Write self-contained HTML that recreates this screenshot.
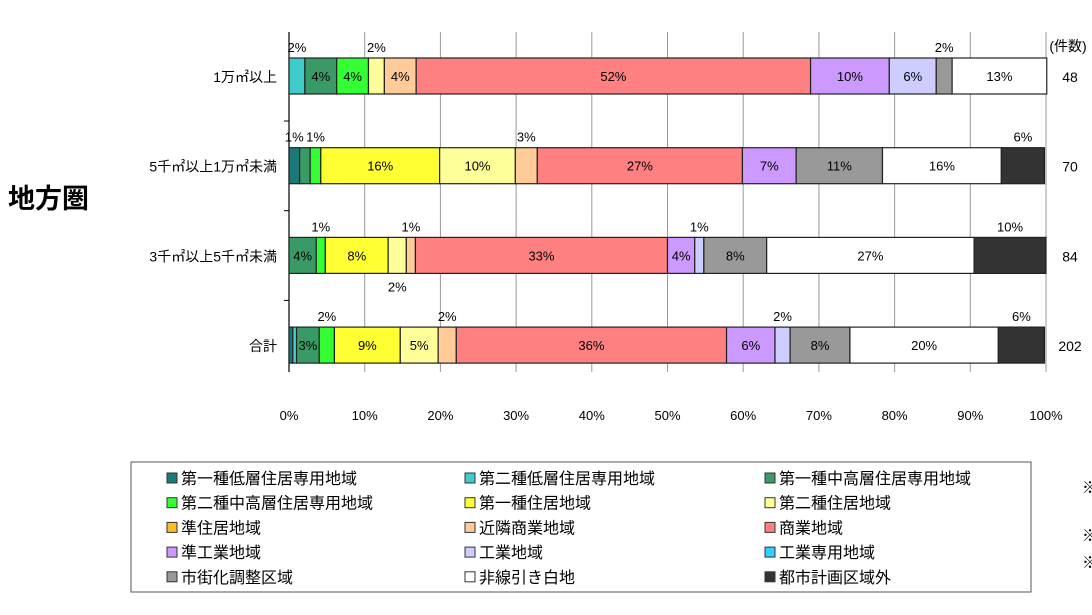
<!DOCTYPE html>
<html><head><meta charset="utf-8">
<style>
body{margin:0;background:#fff;width:1092px;height:610px;overflow:hidden;font-family:"Liberation Sans","Noto Sans CJK JP",sans-serif;}
svg text{font-family:"Liberation Sans","Noto Sans CJK JP",sans-serif;}
</style></head>
<body>
<svg id="chart" width="1092" height="610" xmlns="http://www.w3.org/2000/svg"></svg>
<script>
const categories = ["1万㎡以上","5千㎡以上1万㎡未満","3千㎡以上5千㎡未満","合計"];
const counts = ["48","70","84","202"];
const seriesNames = ["第一種低層住居専用地域","第二種低層住居専用地域","第一種中高層住居専用地域","第二種中高層住居専用地域","第一種住居地域","第二種住居地域","準住居地域","近隣商業地域","商業地域","準工業地域","工業地域","工業専用地域","市街化調整区域","非線引き白地","都市計画区域外"];
const seriesColors = ["#1a7a7a","#40cccc","#3a9a66","#33ff33","#ffff33","#ffff99","#ffbb22","#ffcc99","#ff8080","#cc99ff","#ccccff","#33ccff","#999999","#ffffff","#333333"];
const row1 = [0,2.1,4.2,4.2,0,2.1,0,4.2,52.1,10.4,6.2,0,2.1,12.5,0];
const row2 = [1.4,0,1.4,1.4,15.7,10.0,0,2.9,27.1,7.1,0,0,11.4,15.7,5.7];
const row3 = [0,0,3.6,1.2,8.3,2.4,0,1.2,33.3,3.6,1.2,0,8.3,27.4,9.5];
const row4 = [0.5,0.5,3.0,2.0,8.7,5.0,0,2.4,35.7,6.4,2.0,0,7.9,19.6,6.1];
const rows = [row1,row2,row3,row4];
// label placement per segment: i=inside, u=above, d=below, n=none
const modes1 = ["n","u","i","i","n","u","n","i","i","i","i","n","u","i","n"];
const modes2 = ["u","n","n","u","i","i","n","u","i","i","n","n","i","i","u"];
const modes3 = ["n","n","i","u","i","d","n","u","i","i","u","n","i","i","u"];
const modes4 = ["n","n","i","u","i","i","n","u","i","i","u","n","i","i","u"];
const modes = [modes1,modes2,modes3,modes4];
const xTicks = [0,10,20,30,40,50,60,70,80,90,100];

const svg = document.getElementById('chart');
const NS = "http://www.w3.org/2000/svg";
const X0 = 289, X1 = 1046;
const xScale = v => X0 + (X1 - X0) * v / 100;
const rowY = i => 76 + i * 89.7;
const BH = 36;
function mk(tag, attrs, parent){const e=document.createElementNS(NS,tag);for(const k in attrs)e.setAttribute(k,attrs[k]);(parent||svg).appendChild(e);return e;}

xTicks.forEach(t=>{
  const l = mk('line',{x1:xScale(t),x2:xScale(t),y1:32,y2:372,stroke:'#999','stroke-width':1});
  
  
  const tx = mk('text',{x:xScale(t),y:420,'text-anchor':'middle','font-size':13});
  tx.textContent = t + '%';
  
  
});
const ax = mk('line',{x1:X0,x2:X0,y1:32,y2:372,stroke:'#000','stroke-width':1.2});


[0,1,2].forEach(i=>{
  const y = rowY(i)+45;
  const tk = mk('line',{x1:X0-5,x2:X0,y1:y,y2:y,stroke:'#000'});
  
  
});

rows.forEach((row,ri)=>{
  const cy = rowY(ri);
  let acc = 0;
  row.forEach((v,si)=>{
    if(v<=0) return;
    const xa = xScale(acc), xb = xScale(acc+v);
    const r = mk('rect',{x:xa,y:cy-BH/2,width:xb-xa,height:BH,fill:seriesColors[si],stroke:'#222','stroke-width':1.2});
    
    
    const m = modes[ri][si];
    if(m!=='n'){
      const lbl = Math.round(v)+'%';
      let ty = m==='i'? cy+5 : (m==='u'? cy-BH/2-6 : cy+BH/2+18);
      const t = mk('text',{x:(xa+xb)/2,y:ty,'text-anchor':'middle','font-size':13,fill:'#000'});
      t.textContent = lbl;
      
      
    }
    acc += v;
  });
  const cl = mk('text',{x:277,y:cy+6,'text-anchor':'end','font-size':14});
  cl.textContent = categories[ri];
  
  
  const cn = mk('text',{x:1070,y:cy+6,'text-anchor':'middle','font-size':14});
  cn.textContent = counts[ri];
  
  
});

const ch = mk('text',{x:1068,y:51,'text-anchor':'middle','font-size':14});
ch.textContent = '(件数)';



const title = mk('text',{x:8,y:208,'font-size':27,'font-weight':'bold'});
title.textContent = '地方圏';



const lb = mk('rect',{x:131,y:462,width:900,height:130,fill:'#fff',stroke:'#555','stroke-width':1});


seriesNames.forEach((n,i)=>{
  const col = i%3, row = Math.floor(i/3);
  const lx = [167,465,765][col], ly = 478 + row*24.7;
  const sw = mk('rect',{x:lx,y:ly-5,width:10,height:10,fill:seriesColors[i],stroke:'#333','stroke-width':1});
  
  
  const t = mk('text',{x:lx+14,y:ly+6,'font-size':16});
  t.textContent = n;
  
  
});
[487,535,562].forEach(y=>{
  const t = mk('text',{x:1082,y:y+6,'font-size':16});
  t.textContent = '※';
  
  
});
</script>
</body></html>
